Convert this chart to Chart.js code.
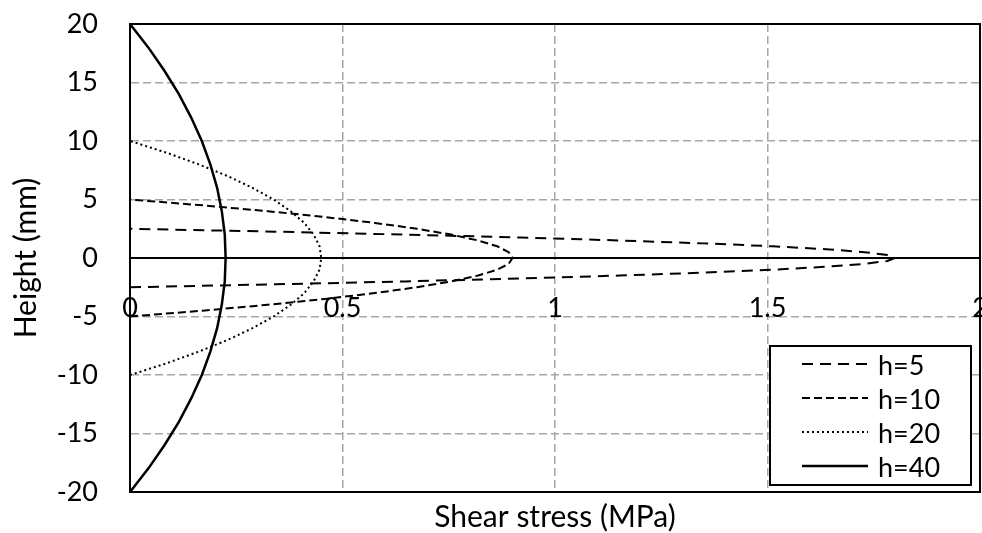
<!DOCTYPE html>
<html>
<head>
<meta charset="utf-8">
<script src="https://cdn.jsdelivr.net/npm/chart.js@4.4.0/dist/chart.umd.min.js"></script>
<style>
	body { margin: 0; background: #fff; }
	#wrap { position: relative; width: 982px; height: 533px; }
	#legend {
		position: absolute; left: 769px; top: 345px;
		width: 199px; height: 137px;
		border: 2px solid #000; background: #fff;
		font-family: Lato, sans-serif; font-size: 27px; color: #000;
	}
	.row { display: flex; align-items: center; height: 34px; }
	.row canvas { margin-left: 31px; }
	.row span { margin-left: 10px; }
</style>
</head>
<body>
<div id="wrap">
	<canvas id="chart"></canvas>
	<div id="legend"></div>
</div>
<script>
// values
const h5Height = [-2.5, -2.25, -2, -1.75, -1.5, -1.25, -1, -0.75, -0.5, -0.25, 0, 0.25, 0.5, 0.75, 1, 1.25, 1.5, 1.75, 2, 2.25, 2.5];
const h5Stress = [0, 0.342, 0.648, 0.918, 1.152, 1.35, 1.512, 1.638, 1.728, 1.782, 1.8, 1.782, 1.728, 1.638, 1.512, 1.35, 1.152, 0.918, 0.648, 0.342, 0];

const h10Height = [-5, -4.5, -4, -3.5, -3, -2.5, -2, -1.5, -1, -0.5, 0, 0.5, 1, 1.5, 2, 2.5, 3, 3.5, 4, 4.5, 5];
const h10Stress = [0, 0.171, 0.324, 0.459, 0.576, 0.675, 0.756, 0.819, 0.864, 0.891, 0.9, 0.891, 0.864, 0.819, 0.756, 0.675, 0.576, 0.459, 0.324, 0.171, 0];

const h20Height = [-10, -9, -8, -7, -6, -5, -4, -3, -2, -1, 0, 1, 2, 3, 4, 5, 6, 7, 8, 9, 10];
const h20Stress = [0, 0.086, 0.162, 0.23, 0.288, 0.338, 0.378, 0.41, 0.432, 0.446, 0.45, 0.446, 0.432, 0.41, 0.378, 0.338, 0.288, 0.23, 0.162, 0.086, 0];

const h40Height = [-20, -18, -16, -14, -12, -10, -8, -6, -4, -2, 0, 2, 4, 6, 8, 10, 12, 14, 16, 18, 20];
const h40Stress = [0, 0.043, 0.081, 0.115, 0.144, 0.169, 0.189, 0.205, 0.216, 0.223, 0.225, 0.223, 0.216, 0.205, 0.189, 0.169, 0.144, 0.115, 0.081, 0.043, 0];

const seriesLabels = ['h=5', 'h=10', 'h=20', 'h=40'];

function points(heights, stress) {
	return heights.map((y, i) => ({ x: stress[i], y: y }));
}

const gridGray = '#a6a6a6';
const tickFont = { family: 'Lato', size: 27 };
const titleFont = { family: 'Lato', size: 30 };

// top and right edges of the plot box
const framePlugin = {
	id: 'frame',
	beforeDatasetsDraw(chart) {
		const { ctx, chartArea: a } = chart;
		ctx.save();
		ctx.strokeStyle = '#000';
		ctx.lineWidth = 2;
		ctx.strokeRect(a.left, a.top, a.right - a.left, a.bottom - a.top);
		ctx.restore();
	}
};

const lineStyle = {
	showLine: true,
	pointRadius: 0,
	borderColor: '#000',
	backgroundColor: '#000',
	fill: false,
	tension: 0,
};

const config = {
	type: 'scatter',
	data: {
		datasets: [
			{ ...lineStyle, label: seriesLabels[0], data: points(h5Height, h5Stress), borderWidth: 2, borderDash: [11, 7] },
			{ ...lineStyle, label: seriesLabels[1], data: points(h10Height, h10Stress), borderWidth: 2, borderDash: [8, 4] },
			{ ...lineStyle, label: seriesLabels[2], data: points(h20Height, h20Stress), borderWidth: 2, borderDash: [2, 3] },
			{ ...lineStyle, label: seriesLabels[3], data: points(h40Height, h40Stress), borderWidth: 2.5 },
		]
	},
	options: {
		responsive: true,
		maintainAspectRatio: false,
		animation: false,
		layout: { padding: { left: 10, right: 2, top: 24, bottom: 0 } },
		plugins: {
			legend: { display: false },
			tooltip: { enabled: false },
		},
		scales: {
			x: {
				type: 'linear',
				position: 'bottom',
				min: 0,
				max: 2,
				ticks: { display: false, stepSize: 0.5 },
				grid: { color: gridGray, lineWidth: 1.5, drawTicks: false },
				border: { color: '#000', width: 2, dash: [8, 4] },
				title: {
					display: true,
					text: 'Shear stress (MPa)',
					color: '#000',
					font: { ...titleFont, lineHeight: 1.03 },
					padding: 0,
				},
				afterFit: s => { s.height = 41; s.paddingLeft = 0; s.paddingRight = 0; },
			},
			x2: {
				type: 'linear',
				position: { y: 0 },
				min: 0,
				max: 2,
				z: 1,
				ticks: {
					stepSize: 0.5, padding: 34, maxRotation: 0, color: '#000', font: tickFont,
					callback: v => String(v),
				},
				grid: { display: false, drawTicks: false },
				border: { display: true, color: '#000', width: 2 },
				afterFit: s => { s.height = 0; s.paddingLeft = 0; s.paddingRight = 0; },
			},
			y: {
				type: 'linear',
				min: -20,
				max: 20,
				ticks: { stepSize: 5, padding: 32, color: '#000', font: tickFont },
				grid: { color: gridGray, lineWidth: 1.5, drawTicks: false },
				border: { color: '#000', width: 2, dash: [8, 4] },
				title: {
					display: true,
					text: 'Height (mm)',
					color: '#000',
					font: { ...titleFont, lineHeight: 1.1 },
					padding: { top: 0, bottom: 20 },
				},
				afterFit: s => { s.width = 120; s.paddingTop = 0; s.paddingBottom = 0; },
			},
		},
	},
	plugins: [framePlugin],
};

const chart = new Chart(document.getElementById('chart'), config);

// legend built from the chart's own datasets
const legendEl = document.getElementById('legend');
chart.data.datasets.forEach(ds => {
	const row = document.createElement('div');
	row.className = 'row';
	const c = document.createElement('canvas');
	c.width = 66;
	c.height = 8;
	const g = c.getContext('2d');
	g.strokeStyle = ds.borderColor;
	g.lineWidth = ds.borderWidth;
	g.setLineDash(ds.borderDash || []);
	g.beginPath();
	g.moveTo(0, 4);
	g.lineTo(66, 4);
	g.stroke();
	const t = document.createElement('span');
	t.textContent = ds.label;
	row.appendChild(c);
	row.appendChild(t);
	legendEl.appendChild(row);
});
</script>
</body>
</html>
